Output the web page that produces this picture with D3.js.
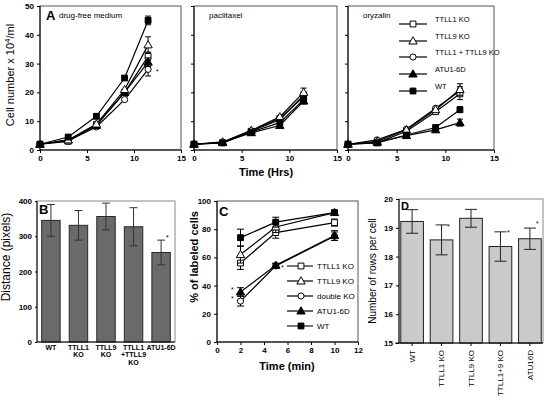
<!DOCTYPE html>
<html><head><meta charset="utf-8">
<script src="https://cdn.jsdelivr.net/npm/d3@7"></script>
<style>
body{margin:0;background:#fff;}
svg{display:block;font-family:"Liberation Sans",Arial,sans-serif;}
</style></head>
<body><svg id="c" width="544" height="403"></svg>
<script>
// ---------- DATA ----------
const hours = [0, 3, 6, 9, 11.5];
const seriesNames = ["TTLL1 KO", "TTLL9 KO", "TTLL1 + TTLL9 KO", "ATU1-6D", "WT"];
const symbolsA = ["squareOpen", "triangleOpen", "circleOpen", "triangleFilled", "squareFilled"];
// drug-free medium (cells x 10^4/ml)
const freeTTLL1 = [2, 3.0, 8.8, 20.0, 32.5];
const freeTTLL9 = [2, 3.5, 9.0, 21.0, 36.5];
const freeDouble = [2, 3.2, 8.0, 17.5, 28.0];
const freeATU = [2, 3.5, 8.5, 20.0, 30.5];
const freeWT = [2, 4.5, 11.7, 25.0, 45.0];
const freeErr = [1.5, 2.8, 2.3, 1.5, 1.5];
// paclitaxel
const paclTTLL1 = [2, 2.5, 6.5, 11.0, 18.5];
const paclTTLL9 = [2, 2.8, 6.8, 11.5, 20.0];
const paclDouble = [2, 2.7, 6.6, 10.5, 19.0];
const paclATU = [2, 2.6, 6.0, 8.5, 17.0];
const paclWT = [2, 2.5, 6.2, 9.5, 17.5];
const paclErr = [1.5, 1.5, 1.2, 1.0, 1.0];
// oryzalin
const oryzTTLL1 = [2, 2.5, 6.5, 13.3, 19.5];
const oryzTTLL9 = [2, 3.0, 7.0, 14.0, 21.0];
const oryzDouble = [2, 3.5, 7.2, 14.5, 20.5];
const oryzATU = [2, 2.7, 5.0, 7.0, 9.5];
const oryzWT = [2, 2.5, 5.2, 7.8, 14.0];
const oryzErr = [2.0, 2.0, 1.5, 1.2, 1.0];
const panelATitles = ["drug-free medium", "paclitaxel", "oryzalin"];
const yTicksA = [0, 10, 20, 30, 40, 50];
const xTicksA = [0, 5, 10, 15];

// Panel B: distance
const groupsB = ["WT", "TTLL1\nKO", "TTLL9\nKO", "TTLL1\n+TTLL9\nKO", "ATU1-6D"];
const distance = [345, 331, 356, 327, 254];
const distanceErr = [45, 42, 38, 54, 35];
const yTicksB = [0, 100, 200, 300, 400];

// Panel C: % labeled cells
const minutes = [2, 5, 10];
const namesC = ["TTLL1 KO", "TTLL9 KO", "double KO", "ATU1-6D", "WT"];
const labTTLL1 = [56, 77.6, 84.7];
const labTTLL9 = [62, 81.6, 91.8];
const labDouble = [29, 54, 75];
const labATU = [35.5, 54.4, 75.5];
const labWT = [74, 85, 91.8];
const errTTLL1 = [4.5, 4, 2.5];
const errTTLL9 = [6, 4, 1.5];
const errDouble = [3.5, 1.5, 3];
const errATU = [3, 1.5, 3.5];
const errWT = [6, 3.5, 1.5];
const xTicksC = [0, 2, 4, 6, 8, 10, 12];
const yTicksC = [0, 20, 40, 60, 80, 100];

// Panel D: rows per cell
const groupsD = ["WT", "TTLL1 KO", "TTLL9 KO", "TTLL1+9 KO", "ATU16D"];
const rows = [19.22, 18.58, 19.33, 18.35, 18.62];
const rowsErr = [0.41, 0.52, 0.31, 0.51, 0.37];
const yTicksD = [15, 16, 17, 18, 19, 20];

// ---------- DRAW ----------
const svg = d3.select("#c");
const FONT = "'Liberation Sans', Arial, sans-serif";

function marker(g, type, x, y) {
  const map = {square: d3.symbolSquare, triangle: d3.symbolTriangle, circle: d3.symbolCircle};
  const base = type.replace(/Open|Filled/, "");
  const filled = type.endsWith("Filled");
  const size = base === "square" ? 34 : base === "triangle" ? 30 : 30;
  g.append("path")
    .attr("d", d3.symbol().type(map[base]).size(size)())
    .attr("transform", `translate(${x},${base === "triangle" ? y + 0.6 : y})`)
    .attr("fill", filled ? "#000" : "#fff")
    .attr("stroke", "#000").attr("stroke-width", 1);
}

function styleAxis(g, fs) {
  g.selectAll(".domain").remove();
  g.selectAll("line").attr("stroke", "#000");
  g.selectAll("text").attr("font-size", fs).attr("font-weight", "bold").attr("fill", "#000").attr("font-family", FONT);
}

// Panel A
const aLeft = [40, 194, 348], aRight = [181, 337, 494];
const aTop = 6, aBottom = 150;
const dataA = [
  [freeTTLL1, freeTTLL9, freeDouble, freeATU, freeWT],
  [paclTTLL1, paclTTLL9, paclDouble, paclATU, paclWT],
  [oryzTTLL1, oryzTTLL9, oryzDouble, oryzATU, oryzWT]
];
const errA = [freeErr, paclErr, oryzErr];
const yA = d3.scaleLinear().domain([0, 50]).range([aBottom, aTop]);

for (let p = 0; p < 3; p++) {
  const x = d3.scaleLinear().domain([0, 15]).range([aLeft[p], aRight[p]]);
  const g = svg.append("g");
  g.append("rect").attr("x", aLeft[p]).attr("y", aTop).attr("width", aRight[p] - aLeft[p]).attr("height", aBottom - aTop)
    .attr("fill", "#fff").attr("stroke", "#555").attr("stroke-width", 1);
  const ya = g.append("g").attr("transform", `translate(${aLeft[p]},0)`)
    .call(d3.axisLeft(yA).tickValues(yTicksA).tickSize(3).tickPadding(3).tickFormat(p === 0 ? d3.format("d") : () => ""));
  styleAxis(ya, 8);
  const xa = g.append("g").attr("transform", `translate(0,${aBottom})`)
    .call(d3.axisBottom(x).tickValues(xTicksA).tickSize(3).tickPadding(2));
  styleAxis(xa, 8);
  g.append("line").attr("x1", aLeft[p]).attr("x2", aLeft[p]).attr("y1", aTop).attr("y2", aBottom).attr("stroke", "#000");
  g.append("line").attr("x1", aLeft[p]).attr("x2", aRight[p]).attr("y1", aBottom).attr("y2", aBottom).attr("stroke", "#000");

  const line = d3.line().x((d, i) => x(hours[i])).y(d => yA(d));
  const drawOrder = [2, 0, 3, 1, 4];
  drawOrder.forEach(s => {
    const vals = dataA[p][s];
    g.append("path").attr("d", line(vals)).attr("fill", "none").attr("stroke", "#000").attr("stroke-width", 1.2);
  });
  drawOrder.forEach(s => {
    const vals = dataA[p][s];
    const li = vals.length - 1;
    const xe = x(hours[li]), e = errA[p][s];
    g.append("line").attr("x1", xe).attr("x2", xe).attr("y1", yA(vals[li] - e)).attr("y2", yA(vals[li] + e)).attr("stroke", "#000");
    [vals[li] - e, vals[li] + e].forEach(v =>
      g.append("line").attr("x1", xe - 3).attr("x2", xe + 3).attr("y1", yA(v)).attr("y2", yA(v)).attr("stroke", "#000"));
    vals.forEach((v, i) => marker(g, symbolsA[s], x(hours[i]), yA(v)));
  });
  const tx = p === 0 ? aLeft[p] + 19 : aLeft[p] + 15;
  g.append("text").attr("x", tx).attr("y", 18).attr("font-size", 8).attr("font-family", FONT).text(panelATitles[p]);
  if (p === 0) {
    g.append("text").attr("x", aLeft[p] + 6).attr("y", 20).attr("font-size", 13).attr("font-weight", "bold").attr("font-family", FONT).text("A");
    g.append("text").attr("x", 156).attr("y", 74).attr("font-size", 7).attr("font-family", FONT).text("*");
  }
}
// legend A
const legAy = [24, 41, 57, 74, 91];
seriesNames.forEach((n, i) => {
  svg.append("line").attr("x1", 399).attr("x2", 427).attr("y1", legAy[i]).attr("y2", legAy[i]).attr("stroke", "#000").attr("stroke-width", 1.2);
  marker(svg, symbolsA[i], 413, legAy[i]);
  svg.append("text").attr("x", 435).attr("y", legAy[i] - 2).attr("font-size", 7.5).attr("font-family", FONT).text(n);
});
svg.append("text").attr("transform", "translate(14,75) rotate(-90)").attr("text-anchor", "middle")
  .attr("font-size", 11).attr("font-family", FONT)
  .call(t => { t.append("tspan").text("Cell number x 10"); t.append("tspan").attr("dy", -4).attr("font-size", 8).text("4"); t.append("tspan").attr("dy", 4).text("/ml"); });
svg.append("text").attr("x", 266).attr("y", 176).attr("text-anchor", "middle").attr("font-size", 11).attr("font-weight", "bold").attr("font-family", FONT).text("Time (Hrs)");

// Panel B
const bL = 37, bR = 175, bT = 201, bB = 342;
const xB = d3.scaleBand().domain(groupsB).range([bL, bR]).paddingInner(0.33).paddingOuter(0.17);
const yB = d3.scaleLinear().domain([0, 400]).range([bB, bT]);
const gB = svg.append("g");
gB.append("rect").attr("x", bL).attr("y", bT).attr("width", bR - bL).attr("height", bB - bT).attr("fill", "#fff").attr("stroke", "#888");
gB.selectAll("rect.bar").data(distance).join("rect").attr("class", "bar")
  .attr("x", (d, i) => xB(groupsB[i])).attr("width", xB.bandwidth())
  .attr("y", d => yB(d)).attr("height", d => bB - yB(d))
  .attr("fill", "#6a6a6a").attr("stroke", "#2a2a2a").attr("stroke-width", 1);
distance.forEach((d, i) => {
  const cx = xB(groupsB[i]) + xB.bandwidth() / 2, e = distanceErr[i];
  gB.append("line").attr("x1", cx).attr("x2", cx).attr("y1", yB(d - e)).attr("y2", yB(d + e)).attr("stroke", "#333");
  [d - e, d + e].forEach(v => gB.append("line").attr("x1", cx - 4).attr("x2", cx + 4).attr("y1", yB(v)).attr("y2", yB(v)).attr("stroke", "#333"));
});
const yaB = gB.append("g").attr("transform", `translate(${bL},0)`).call(d3.axisLeft(yB).tickValues(yTicksB).tickSize(2).tickPadding(3));
styleAxis(yaB, 8);
gB.append("line").attr("x1", bL).attr("x2", bL).attr("y1", bT).attr("y2", bB).attr("stroke", "#000");
gB.append("line").attr("x1", bL).attr("x2", bR).attr("y1", bB).attr("y2", bB).attr("stroke", "#000");
groupsB.forEach((gname, i) => {
  const cx = xB(gname) + xB.bandwidth() / 2;
  gname.split("\n").forEach((ln, k) => gB.append("text").attr("x", cx).attr("y", 350 + k * 7.3).attr("text-anchor", "middle")
    .attr("font-size", 7).attr("font-weight", "bold").attr("font-family", FONT).text(ln));
});
gB.append("text").attr("x", 39).attr("y", 214).attr("font-size", 13).attr("font-weight", "bold").attr("font-family", FONT).text("B");
gB.append("text").attr("x", 166).attr("y", 240).attr("font-size", 7).attr("font-family", FONT).text("*");
svg.append("text").attr("transform", "translate(10,257) rotate(-90)").attr("text-anchor", "middle").attr("font-size", 12).attr("font-family", FONT).text("Distance  (pixels)");

// Panel C
const cL = 217, cR = 358, cT = 201, cB = 342;
const xC = d3.scaleLinear().domain([0, 12]).range([cL, cR]);
const yC = d3.scaleLinear().domain([0, 100]).range([cB, cT]);
const gC = svg.append("g");
gC.append("rect").attr("x", cL).attr("y", cT).attr("width", cR - cL).attr("height", cB - cT).attr("fill", "#fff").attr("stroke", "#555");
const yaC = gC.append("g").attr("transform", `translate(${cL},0)`).call(d3.axisLeft(yC).tickValues(yTicksC).tickSize(3).tickPadding(3));
styleAxis(yaC, 8);
const xaC = gC.append("g").attr("transform", `translate(0,${cB})`).call(d3.axisBottom(xC).tickValues(xTicksC).tickSize(3).tickPadding(2));
styleAxis(xaC, 8);
gC.append("line").attr("x1", cL).attr("x2", cL).attr("y1", cT).attr("y2", cB).attr("stroke", "#000");
gC.append("line").attr("x1", cL).attr("x2", cR).attr("y1", cB).attr("y2", cB).attr("stroke", "#000");
const dataC = [labTTLL1, labTTLL9, labDouble, labATU, labWT];
const errC = [errTTLL1, errTTLL9, errDouble, errATU, errWT];
const lineC = d3.line().x((d, i) => xC(minutes[i])).y(d => yC(d));
[2, 3, 0, 1, 4].forEach(s => gC.append("path").attr("d", lineC(dataC[s])).attr("fill", "none").attr("stroke", "#000").attr("stroke-width", 1.2));
[2, 3, 0, 1, 4].forEach(s => {
  dataC[s].forEach((v, i) => {
    const cx = xC(minutes[i]), e = errC[s][i];
    gC.append("line").attr("x1", cx).attr("x2", cx).attr("y1", yC(v - e)).attr("y2", yC(v + e)).attr("stroke", "#000");
    [v - e, v + e].forEach(w => gC.append("line").attr("x1", cx - 3.5).attr("x2", cx + 3.5).attr("y1", yC(w)).attr("y2", yC(w)).attr("stroke", "#000"));
  });
  dataC[s].forEach((v, i) => marker(gC, symbolsA[s], xC(minutes[i]), yC(v)));
});
const legCy = [266, 281, 296, 311, 326];
namesC.forEach((n, i) => {
  const gray = (i === 0 || i === 4);
  gC.append("line").attr("x1", 287).attr("x2", 313).attr("y1", legCy[i]).attr("y2", legCy[i])
    .attr("stroke", gray ? "#777" : "#000").attr("stroke-width", gray ? 2 : 1.2);
  marker(gC, symbolsA[i], 301, legCy[i]);
  gC.append("text").attr("x", 317).attr("y", legCy[i] + 3).attr("font-size", 8).attr("font-family", FONT).text(n);
});
gC.append("text").attr("x", 219).attr("y", 216).attr("font-size", 13).attr("font-weight", "bold").attr("font-family", FONT).text("C");
[[231, 292], [231, 301], [281, 270]].forEach(p => gC.append("text").attr("x", p[0]).attr("y", p[1]).attr("font-size", 7).attr("font-family", FONT).text("*"));
svg.append("text").attr("transform", "translate(198,257) rotate(-90)").attr("text-anchor", "middle").attr("font-size", 11).attr("font-weight", "bold").attr("font-family", FONT).text("% of labeled cells");
svg.append("text").attr("x", 287).attr("y", 370).attr("text-anchor", "middle").attr("font-size", 11).attr("font-weight", "bold").attr("font-family", FONT).text("Time (min)");

// Panel D
const dL = 399, dR = 543, dT = 199, dB = 343;
const xD = d3.scaleBand().domain(groupsD).range([dL, dR]).paddingInner(0.23).paddingOuter(0.06);
const yD = d3.scaleLinear().domain([15, 20]).range([dB, dT]);
const gD = svg.append("g");
gD.append("rect").attr("x", dL).attr("y", dT).attr("width", dR - dL).attr("height", dB - dT).attr("fill", "#fff").attr("stroke", "#888");
gD.selectAll("rect.bar").data(rows).join("rect").attr("class", "bar")
  .attr("x", (d, i) => xD(groupsD[i])).attr("width", xD.bandwidth())
  .attr("y", d => yD(d)).attr("height", d => dB - yD(d))
  .attr("fill", "#cacaca").attr("stroke", "#222").attr("stroke-width", 1);
rows.forEach((d, i) => {
  const cx = xD(groupsD[i]) + xD.bandwidth() / 2, e = rowsErr[i];
  gD.append("line").attr("x1", cx).attr("x2", cx).attr("y1", yD(d - e)).attr("y2", yD(d + e)).attr("stroke", "#222");
  [d - e, d + e].forEach(v => gD.append("line").attr("x1", cx - 6).attr("x2", cx + 6).attr("y1", yD(v)).attr("y2", yD(v)).attr("stroke", "#222"));
});
const yaD = gD.append("g").attr("transform", `translate(${dL},0)`).call(d3.axisLeft(yD).tickValues(yTicksD).tickFormat(d3.format("d")).tickSize(3).tickPadding(3));
styleAxis(yaD, 8);
const xaD = gD.append("g").attr("transform", `translate(0,${dB})`).call(d3.axisBottom(xD).tickSize(3).tickPadding(4));
xaD.selectAll(".domain").remove();
xaD.selectAll("line").attr("stroke", "#000");
xaD.selectAll("text").attr("font-size", 8).attr("font-family", FONT).attr("fill", "#000")
  .attr("transform", "rotate(-90)").attr("text-anchor", "end").attr("dy", "0.35em").attr("x", -7).attr("y", 0);
gD.append("line").attr("x1", dL).attr("x2", dL).attr("y1", dT).attr("y2", dB).attr("stroke", "#000");
gD.append("line").attr("x1", dL - 4).attr("x2", dR).attr("y1", dB).attr("y2", dB).attr("stroke", "#000");
gD.append("text").attr("x", 401).attr("y", 210).attr("font-size", 11).attr("font-weight", "bold").attr("font-family", FONT).text("D");
[[447, 229], [507, 235], [536, 226]].forEach(p => gD.append("text").attr("x", p[0]).attr("y", p[1]).attr("font-size", 7).attr("font-family", FONT).text("*"));
svg.append("text").attr("transform", "translate(376,271) rotate(-90)").attr("text-anchor", "middle").attr("font-size", 10).attr("font-family", FONT).text("Number of rows per cell");
</script></body></html>
